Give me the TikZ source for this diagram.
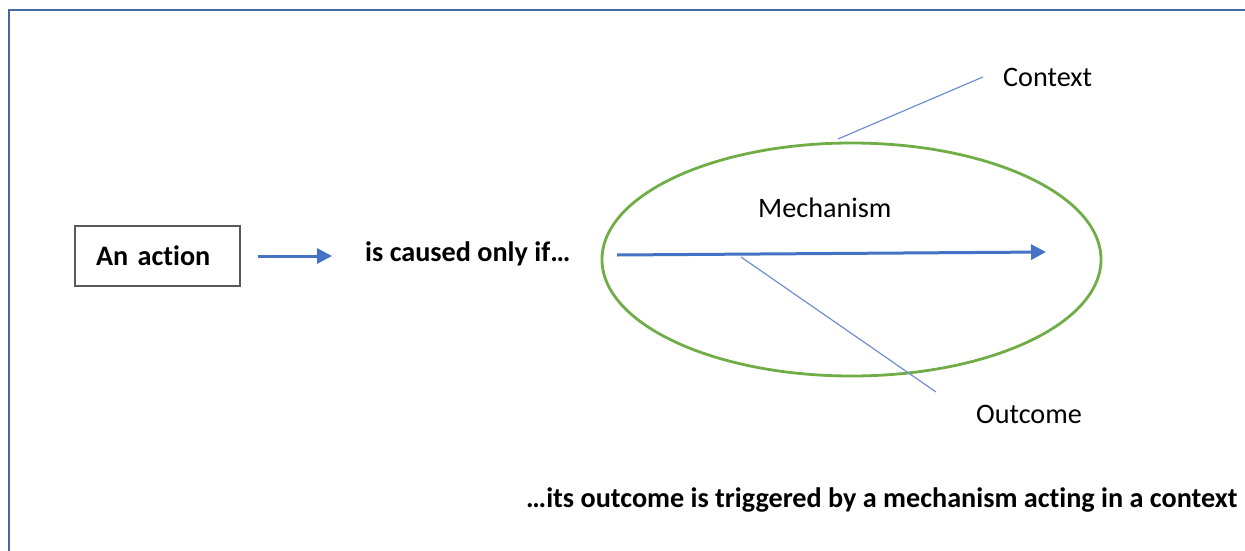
\documentclass[tikz,border=0pt]{standalone}
\usepackage{fontspec}
\setmainfont{Carlito}[Ligatures=NoCommon]
\usepackage{tikz}
\usepackage{xcolor}
\usetikzlibrary{calc,arrows.meta,shapes.geometric}

\definecolor{framecol}{RGB}{68,103,166}
\definecolor{flowcol}{RGB}{68,114,196}
\definecolor{thincol}{RGB}{111,143,208}
\definecolor{ringcol}{RGB}{112,173,71}
\definecolor{boxcol}{RGB}{89,89,89}

\begin{document}
\begin{tikzpicture}[x=1pt,y=-1pt]
            \tikzstyle{every node}=[inner sep=0pt, font=\fontsize{28.2}{34}\selectfont]
            \tikzstyle{flow}=[draw=flowcol, line width=3pt, -{Triangle[length=15pt,width=15pt]}]
            \tikzstyle{callout}=[draw=thincol, line width=1.2pt]
            \useasboundingbox (0,0) rectangle (1245,551);
            \draw [framecol, line width=2.5pt] (9,551) -- (9,10) -- (1245,10);
            % Left part
            \node (action) [draw=boxcol, line width=1.5pt, text width=123pt, inner xsep=21pt,
                minimum height=60pt, align=left] at (157.5,256) {\textbf{An action}};
            \node (caused) [anchor=base west] at (365,261) {\textbf{is caused only if…}};
            \draw [flow] ([xshift=17pt]action.east) -- ([xshift=-33pt]caused.west |- action.east);
            % Context ring
            \node (ring) [ellipse, draw=ringcol, line width=2.8pt, minimum width=499pt,
                minimum height=233pt] at (851.5,259.5) {};
            \node (mech) [anchor=base west] at (758,217) {Mechanism};
            \coordinate (mechtail) at (617,255);
            \coordinate (mechtip) at (1046,252);
            \draw [flow] (mechtail) -- (mechtip);
            % Labels
            \node (context) [anchor=base west] at (1003,86) {Context};
            \node (outcome) [anchor=base west] at (976,423) {Outcome};
            \coordinate (ctxfoot) at (838,139);
            \coordinate (outfoot) at (741,257);
            \coordinate (outhead) at (936,392);
            \draw [callout] (ctxfoot) -- ([xshift=-20pt]context.west);
            \draw [callout] (outfoot) -- (outhead);
            \node (summary) [anchor=base west] at (526,507)
                {\textbf{…its outcome is triggered by a mechanism acting in a context}};
        \end{tikzpicture}
\end{document}
